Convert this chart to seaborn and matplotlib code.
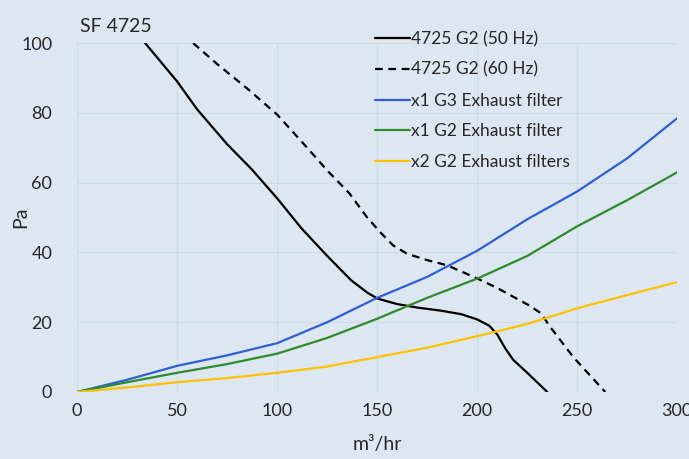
import numpy as np
import pandas as pd
import seaborn as sns
import matplotlib.pyplot as plt

# fan curves
fan50_x = [34, 50, 60, 75, 87, 100, 112, 125, 137, 145, 150, 160, 170, 182, 192, 200, 206, 210, 214, 218, 225, 235]
fan50_y = [100, 89, 81, 71, 64, 55.5, 47, 39, 32, 28.5, 26.8, 25.2, 24.2, 23.3, 22.3, 20.8, 19, 16.5, 12.5, 9.2, 5.5, 0]
fan60_x = [58, 70, 85, 100, 115, 125, 136, 145, 152, 158, 165, 175, 185, 195, 202, 210, 218, 226, 232, 236, 240, 248, 256, 264]
fan60_y = [100, 94, 87, 79.5, 70, 63.5, 57, 50, 45.5, 42, 39.6, 37.8, 36.3, 33.8, 32, 29.8, 27.3, 24.8, 22.5, 19, 16, 10, 5, 0]

# filter curves
flow = [0, 25, 50, 75, 100, 125, 150, 175, 200, 225, 250, 275, 300]
g3_one = [0, 3.5, 7.5, 10.5, 14, 20, 27, 33, 40.5, 49.5, 57.5, 67, 78.5]
g2_one = [0, 2.8, 5.5, 8, 11, 15.5, 21, 27, 32.5, 39, 47.5, 55, 63]
g2_two = [0, 1.3, 2.8, 4, 5.5, 7.3, 10, 12.7, 16, 19.5, 24, 27.8, 31.5]

bg = "#dde7f2"
sns.set_style("whitegrid", {"axes.facecolor": bg, "figure.facecolor": bg,
                            "grid.color": "#d0dbe8", "axes.edgecolor": bg})
plt.rcParams['font.family'] = ['Lato', 'DejaVu Sans']

fig, ax = plt.subplots(figsize=(6.89, 4.59), dpi=100)
fig.subplots_adjust(left=0.112, right=0.983, bottom=0.146, top=0.906)

lw = 1.6
sns.lineplot(x=fan50_x, y=fan50_y, color="black", lw=lw, label="4725 G2 (50 Hz)", ax=ax, sort=False)
sns.lineplot(x=fan60_x, y=fan60_y, color="black", lw=lw, label="4725 G2 (60 Hz)", ax=ax, sort=False)
ax.lines[-1].set_dashes((3.5, 2.5))
sns.lineplot(x=flow, y=g3_one, color="#2f5fd0", lw=lw, label="x1 G3 Exhaust filter", ax=ax)
sns.lineplot(x=flow, y=g2_one, color="#2e8a2a", lw=lw, label="x1 G2 Exhaust filter", ax=ax)
sns.lineplot(x=flow, y=g2_two, color="#ffc000", lw=lw, label="x2 G2 Exhaust filters", ax=ax)

ax.set_xlim(0, 300)
ax.set_ylim(0, 100)
ax.set_xticks(range(0, 301, 50))
ax.set_yticks(range(0, 101, 20))
ax.tick_params(axis="x", labelsize=13, colors="#262626", length=0, pad=8)
ax.tick_params(axis="y", labelsize=13, colors="#262626", length=0, pad=18)
ax.set_xlabel("m³/hr", fontsize=14, color="#262626")
ax.set_ylabel("Pa", fontsize=14, color="#262626")
ax.xaxis.set_label_coords(0.5, -0.125)
ax.yaxis.set_label_coords(-0.08, 0.5)
for s in ax.spines.values():
    s.set_visible(False)

ax.legend(loc="upper left", bbox_to_anchor=(0.47, 1.08), frameon=False, fontsize=12.5,
          handlelength=2.0, handletextpad=0.1, labelspacing=0.85, labelcolor="#262626")

fig.text(80 / 689, 1 - 26 / 459, "SF 4725", fontsize=14, color="#262626", va="center")

fig.savefig("out.png", dpi=100, facecolor=bg)
